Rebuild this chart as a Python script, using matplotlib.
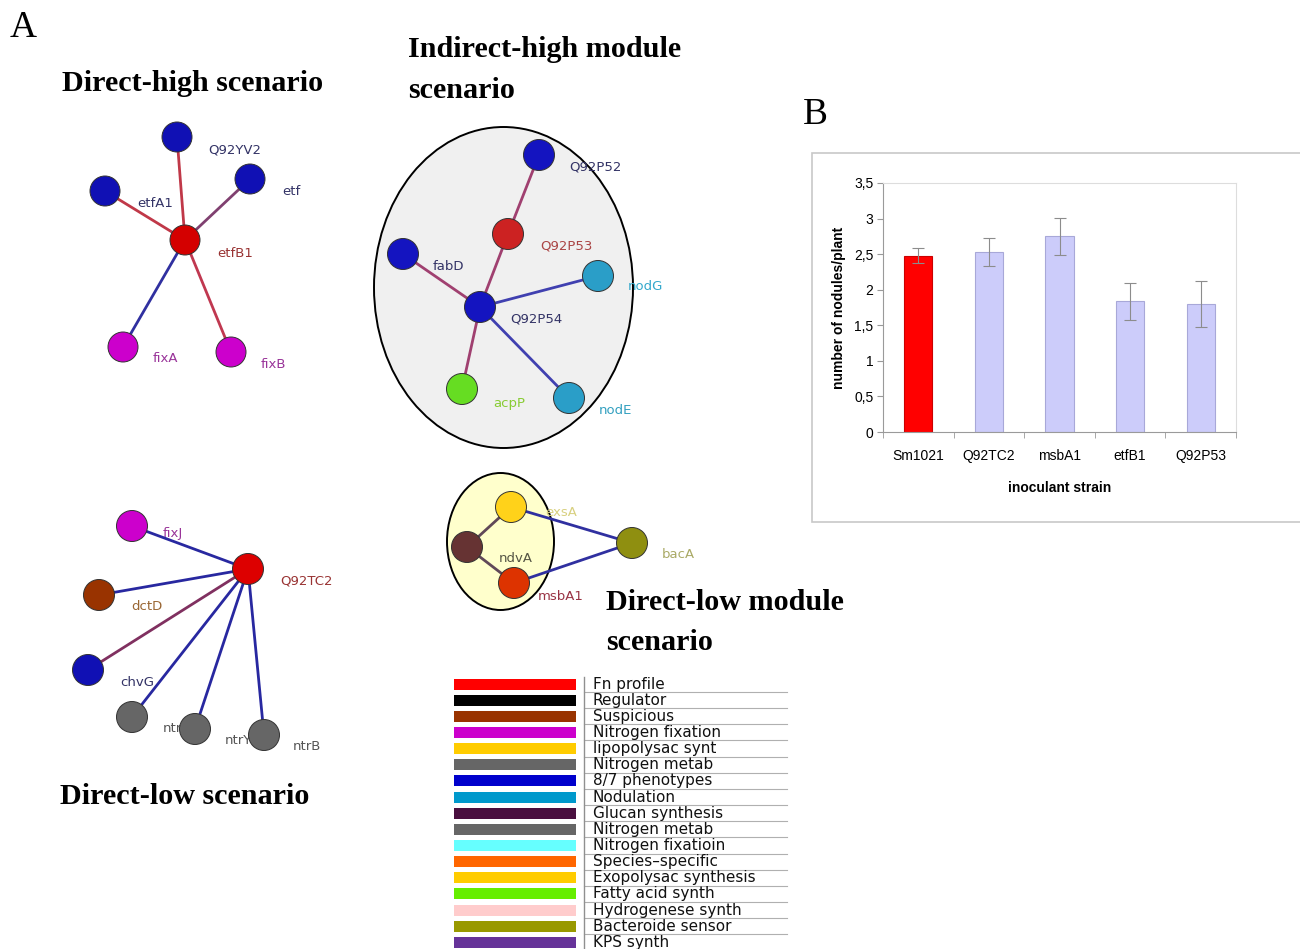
import matplotlib
matplotlib.use("Agg")
import matplotlib.pyplot as plt
import numpy as np
from matplotlib.patches import Circle, Ellipse, Rectangle

W, H = 1300, 949

# ---- panel B data ----
strains = ["Sm1021", "Q92TC2", "msbA1", "etfB1", "Q92P53"]
nodules = [2.48, 2.53, 2.75, 1.84, 1.80]
nodules_err = [0.11, 0.20, 0.26, 0.26, 0.32]
bar_colors = ["#ff0000", "#ccccfa", "#ccccfa", "#ccccfa", "#ccccfa"]
yticks = [0, 0.5, 1, 1.5, 2, 2.5, 3, 3.5]
ytick_labels = ["0", "0,5", "1", "1,5", "2", "2,5", "3", "3,5"]

# ---- panel A networks (layout px) ----
dh_names = ["etfB1", "Q92YV2", "etfA1", "etf", "fixA", "fixB"]
dh_x = [185, 177, 105, 250, 123, 231]
dh_y = [240, 137, 191, 179, 347, 352]
dh_fill = ["#d40000", "#1010b4", "#1010b4", "#1010b4", "#cc00cc", "#cc00cc"]
dh_lab_x = [217, 208, 137, 282, 153, 261]
dh_lab_y = [253, 150, 203, 191, 358, 364]
dh_lab_c = ["#993333", "#333366", "#333366", "#333366", "#993399", "#993399"]
dh_edges = [(0, 1), (0, 2), (0, 3), (0, 4), (0, 5)]
dh_edge_c = ["#c03848", "#c03848", "#804070", "#3030a0", "#c03850"]

dl_names = ["Q92TC2", "fixJ", "dctD", "chvG", "ntrC", "ntrY", "ntrB"]
dl_x = [248, 132, 99, 88, 132, 195, 264]
dl_y = [569, 526, 595, 670, 717, 729, 735]
dl_fill = ["#dd0000", "#cc00cc", "#993300", "#1010b4", "#666666", "#666666", "#666666"]
dl_lab_x = [280, 163, 131, 120, 163, 225, 293]
dl_lab_y = [581, 534, 607, 683, 729, 741, 747]
dl_lab_c = ["#993333", "#993399", "#996633", "#333366", "#555555", "#555555", "#555555"]
dl_edges = [(0, 1), (0, 2), (0, 3), (0, 4), (0, 5), (0, 6)]
dl_edge_c = ["#2828a0", "#2828a0", "#803060", "#2828a0", "#2828a0", "#2828a0"]

ih_names = ["Q92P52", "Q92P53", "fabD", "nodG", "Q92P54", "acpP", "nodE"]
ih_x = [539, 508, 403, 598, 480, 462, 569]
ih_y = [155, 234, 254, 276, 307, 389, 398]
ih_fill = ["#1414c0", "#cc2222", "#1414c0", "#2a9ec8", "#1414c0", "#66dd22", "#2a9ec8"]
ih_lab_x = [569, 540, 433, 628, 510, 493, 599]
ih_lab_y = [167, 246, 266, 286, 319, 403, 410]
ih_lab_c = ["#333366", "#aa4444", "#333366", "#33a8cc", "#333366", "#88cc33", "#33a0c0"]
ih_edges = [(0, 1), (1, 4), (2, 4), (3, 4), (5, 4), (6, 4)]
ih_edge_c = ["#a04070", "#a04070", "#a04070", "#4040b0", "#a04070", "#4040b0"]

dm_names = ["exsA", "ndvA", "msbA1", "bacA"]
dm_x = [511, 467, 514, 632]
dm_y = [507, 547, 583, 543]
dm_fill = ["#ffd21a", "#663333", "#dd3300", "#8f8f10"]
dm_lab_x = [545, 499, 538, 662]
dm_lab_y = [513, 559, 596, 555]
dm_lab_c = ["#d8d080", "#555544", "#993344", "#aaaa66"]
dm_edges = [(0, 1), (1, 2), (0, 3), (2, 3)]
dm_edge_c = ["#604858", "#604858", "#3030a0", "#3030a0"]

# ---- legend ----
legend_names = ["Fn profile", "Regulator", "Suspicious", "Nitrogen fixation",
                "lipopolysac synt", "Nitrogen metab", "8/7 phenotypes", "Nodulation",
                "Glucan synthesis", "Nitrogen metab", "Nitrogen fixatioin",
                "Species\u2013specific", "Exopolysac synthesis", "Fatty acid synth",
                "Hydrogenese synth", "Bacteroide sensor", "KPS synth"]
legend_colors = ["#ff0000", "#000000", "#993300", "#cc00cc", "#ffcc00", "#666666",
                 "#0000cc", "#0099cc", "#4a0f3f", "#666666", "#66ffff", "#ff6600",
                 "#ffcc00", "#66ee00", "#ffcccc", "#999900", "#663399"]

serif = "Liberation Serif"


def draw_net(ax, xs, ys, fill, lx, ly, lc, names, edges, edge_c, r=15.5):
    for (a, b), c in zip(edges, edge_c):
        ax.plot([xs[a], xs[b]], [ys[a], ys[b]], color=c, lw=2, zorder=3,
                solid_capstyle="butt")
    for t, x, y, c in zip(names, lx, ly, lc):
        ax.text(x, y, t, color=c, fontsize=9.5, family="DejaVu Sans",
                ha="left", va="center", zorder=2.5)
    for x, y, f in zip(xs, ys, fill):
        ax.add_patch(Circle((x, y), r, facecolor=f, edgecolor="#333333",
                            lw=0.7, zorder=4))


fig = plt.figure(figsize=(W / 100, H / 100), dpi=100)
fig.patch.set_facecolor("white")

ov = fig.add_axes([0, 0, 1, 1])
ov.set_xlim(0, W)
ov.set_ylim(H, 0)
ov.axis("off")

# module ellipses
ov.add_patch(Ellipse((503.5, 287.5), 259, 321, facecolor="#f0f0f0",
                     edgecolor="black", lw=1.4, zorder=1))
ov.add_patch(Ellipse((500.5, 541.5), 107, 137, facecolor="#ffffcc",
                     edgecolor="black", lw=1.4, zorder=1))

draw_net(ov, dh_x, dh_y, dh_fill, dh_lab_x, dh_lab_y, dh_lab_c, dh_names, dh_edges, dh_edge_c, r=15)
draw_net(ov, dl_x, dl_y, dl_fill, dl_lab_x, dl_lab_y, dl_lab_c, dl_names, dl_edges, dl_edge_c)
draw_net(ov, ih_x, ih_y, ih_fill, ih_lab_x, ih_lab_y, ih_lab_c, ih_names, ih_edges, ih_edge_c)
draw_net(ov, dm_x, dm_y, dm_fill, dm_lab_x, dm_lab_y, dm_lab_c, dm_names, dm_edges, dm_edge_c)

# titles
ov.text(10, 28, "A", family=serif, fontsize=27, va="center", ha="left")
ov.text(803, 115, "B", family=serif, fontsize=27, va="center", ha="left")
tkw = dict(family=serif, fontsize=21.7, fontweight="bold", va="center", ha="left")
ov.text(62, 83, "Direct-high scenario", **tkw)
ov.text(408, 49, "Indirect-high module", **tkw)
ov.text(408, 90, "scenario", **tkw)
ov.text(606, 603, "Direct-low module", **tkw)
ov.text(606, 643, "scenario", **tkw)
ov.text(60, 796, "Direct-low scenario", **tkw)

# legend
row0, pitch = 684, 16.15
for i, (name, col) in enumerate(zip(legend_names, legend_colors)):
    yc = row0 + i * pitch
    ov.add_patch(Rectangle((454, yc - 5.5), 122, 11, facecolor=col,
                           edgecolor="none", zorder=2))
    ov.text(593, yc, name, fontsize=11, family="DejaVu Sans", va="center",
            ha="left", color="#111111")
    ov.plot([584, 787], [yc + 8, yc + 8], color="#b0b0b0", lw=0.8)
ov.plot([584, 584], [677, H], color="#909090", lw=1)

# panel B frame
ov.add_patch(Rectangle((812, 153), 500, 369, facecolor="white",
                       edgecolor="#c8c8c8", lw=1.2, zorder=0.5))

# ---- panel B bar chart ----
ax = fig.add_axes([883 / W, 1 - 432 / H, (1236 - 883) / W, (432 - 183) / H])
ax.set_facecolor("white")
x = np.arange(len(strains))
ax.bar(x, nodules, width=0.4, color=bar_colors, edgecolor=["#cc0000"] + ["#a8a8d8"] * 4,
       linewidth=0.8, zorder=2)
ax.errorbar(x, nodules, yerr=nodules_err, fmt="none", ecolor="#8c8c8c",
            elinewidth=0.8, capsize=4, capthick=0.8, zorder=3)
ax.set_xlim(-0.5, len(strains) - 0.5)
ax.set_ylim(0, 3.5)
ax.set_yticks(yticks)
ax.set_yticklabels(ytick_labels, family="Liberation Sans", fontsize=10)
ax.set_xticks(x)
ax.set_xticklabels(strains, family="Liberation Sans", fontsize=10)
ax.set_xticks(np.arange(-0.5, len(strains), 1), minor=True)
ax.tick_params(axis="x", which="major", length=0, pad=12.5)
ax.tick_params(axis="x", which="minor", length=4, color="#999999", direction="out")
ax.tick_params(axis="y", length=4, color="#999999", direction="out", pad=3)
for side in ["left", "bottom"]:
    ax.spines[side].set_color("#9a9a9a")
for side in ["top", "right"]:
    ax.spines[side].set_color("#dddddd")
ax.set_ylabel("number of nodules/plant", family="Liberation Sans", fontsize=10,
              fontweight="bold", labelpad=6)
ax.set_xlabel("inoculant strain", family="Liberation Sans", fontsize=10,
              fontweight="bold", labelpad=13)

fig.savefig("out.png", dpi=100, facecolor="white")
